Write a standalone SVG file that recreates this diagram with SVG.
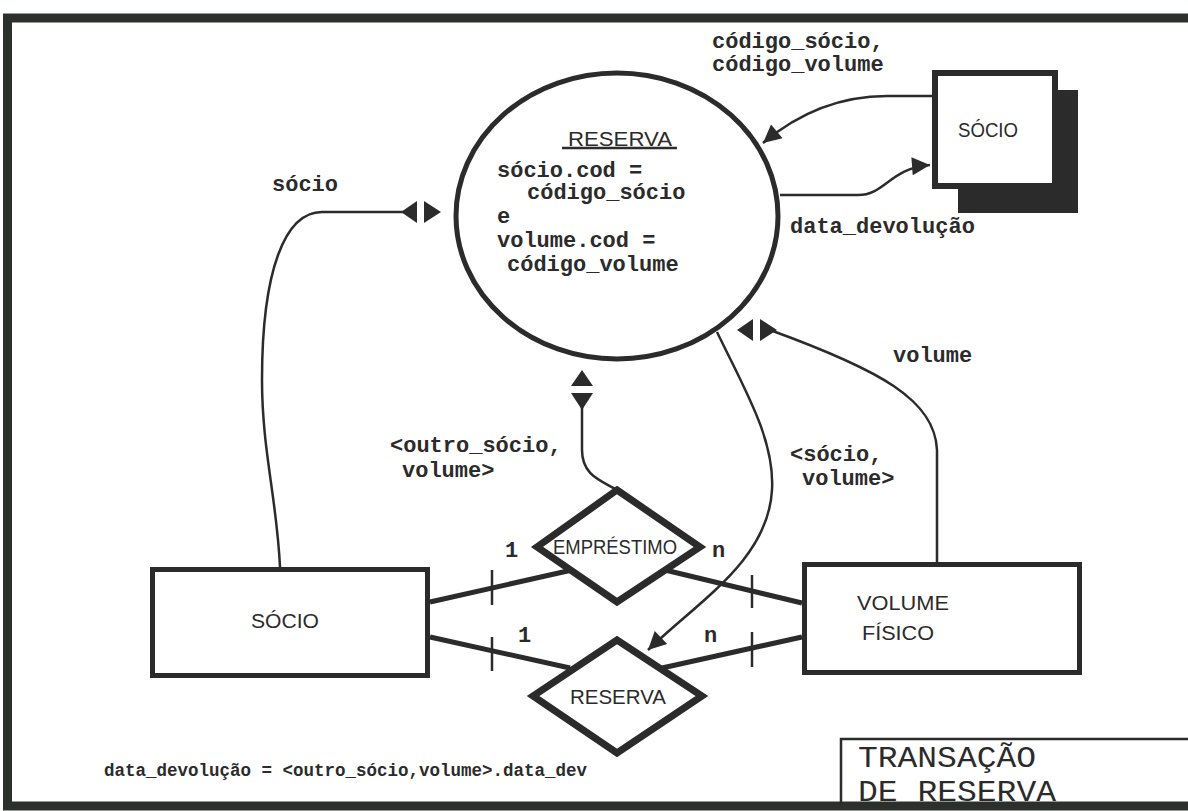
<svg xmlns="http://www.w3.org/2000/svg" width="1188" height="811" viewBox="0 0 1188 811">
<defs>
<style>
.frame{fill:none;stroke:#2c302c;stroke-width:9}
.box{fill:#fff;stroke:#2b2b2b;stroke-width:5}
.thick{fill:#fff;stroke:#2b2b2b;stroke-width:7}
.link{fill:none;stroke:#2b2b2b;stroke-width:5}
.flow{fill:none;stroke:#2b2b2b;stroke-width:2.5}
.tick{stroke:#2b2b2b;stroke-width:2.5}
.mono{font-family:"Liberation Mono","Courier New",monospace;font-weight:bold;font-size:22px;fill:#2b2b2b}
.small{font-family:"Liberation Mono","Courier New",monospace;font-weight:bold;font-size:17.5px;fill:#2b2b2b}
.title{font-family:"Liberation Mono","Courier New",monospace;font-size:30px;fill:#2b2b2b}
.sans{font-family:"Liberation Sans",Arial,sans-serif;font-size:20px;fill:#2b2b2b}
.head{fill:#2b2b2b}
</style>
<marker id="arr" viewBox="0 0 10 10" refX="10" refY="5" markerWidth="20" markerHeight="18" markerUnits="userSpaceOnUse" orient="auto">
<path d="M0,0 L10,5 L0,10 z" fill="#2b2b2b"/>
</marker>
<g id="dbl">
<polygon points="-20,0 -4,-11 -4,11" class="head"/>
<polygon points="20,0 3,-11 3,11" class="head"/>
</g>
</defs>
<rect width="1188" height="811" fill="#fff"/>
<path class="frame" d="M1188 18 L7.5 18 L7.5 806 L1188 806"/>

<g id="connectors">
<line class="link" x1="430" y1="602" x2="572" y2="570"/>
<line class="link" x1="665" y1="570" x2="802" y2="603"/>
<line class="link" x1="430" y1="637" x2="570" y2="668"/>
<line class="link" x1="802" y1="637" x2="662" y2="668"/>
<line class="tick" x1="492" y1="570" x2="492" y2="605"/>
<line class="tick" x1="752" y1="575" x2="752" y2="608"/>
<line class="tick" x1="492" y1="637" x2="492" y2="671"/>
<line class="tick" x1="752" y1="632" x2="752" y2="667"/>
<path class="flow" d="M280 567 C277 500 262 450 262 380 C262 270 285 212 322 212 L415 212"/>
<use href="#dbl" x="421" y="212"/>
<path class="flow" d="M937 563 L937 450 C935 400 880 370 770 330"/>
<use href="#dbl" x="757" y="330"/>
<path class="flow" d="M617 490 C600 480 582 475 582 450 L582 395"/>
<use href="#dbl" transform="translate(582,390) rotate(90)"/>
<path class="flow" marker-end="url(#arr)" d="M717 332 C745 390 775 440 772 490 C768 560 700 600 648 650"/>
<path class="flow" marker-end="url(#arr)" d="M932 96 L887 96 C840 96 800 112 763 143"/>
<path class="flow" marker-end="url(#arr)" d="M780 195 L858 195 C885 195 890 168 930 165"/>
</g>

<g id="process-reserva">
<ellipse cx="617" cy="216" rx="161" ry="143" fill="none" stroke="#2b2b2b" stroke-width="5"/>
<text class="sans" x="568" y="146" font-size="25" textLength="104" lengthAdjust="spacingAndGlyphs">RESERVA</text>
<line x1="562" y1="148" x2="677" y2="148" stroke="#2b2b2b" stroke-width="2.5"/>
<text class="mono" x="497" y="177">sócio.cod =</text>
<text class="mono" x="527" y="199">código_sócio</text>
<text class="mono" x="497" y="223">e</text>
<text class="mono" x="497" y="247">volume.cod =</text>
<text class="mono" x="507" y="271">código_volume</text>
</g>

<g id="store-socio">
<rect x="958" y="90" width="120" height="123" fill="#2b2b2b"/>
<rect x="935" y="73" width="120" height="113" fill="#fff" stroke="#2b2b2b" stroke-width="6"/>
<text class="sans" x="988" y="137" text-anchor="middle" font-size="22" textLength="60" lengthAdjust="spacingAndGlyphs">SÓCIO</text>
</g>

<g id="entity-socio">
<rect class="box" x="152.5" y="569.5" width="275" height="106"/>
<text class="sans" x="285" y="628" text-anchor="middle" font-size="21" textLength="68" lengthAdjust="spacingAndGlyphs">SÓCIO</text>
</g>

<g id="entity-volume">
<rect class="box" x="804.5" y="564.5" width="275" height="108"/>
<text class="sans" x="857" y="610" font-size="21" textLength="92" lengthAdjust="spacingAndGlyphs">VOLUME</text>
<text class="sans" x="862" y="640" font-size="21" textLength="72" lengthAdjust="spacingAndGlyphs">FÍSICO</text>
</g>

<g id="rel-emprestimo">
<polygon class="thick" points="617,490 700,547 617,602 537,547"/>
<text class="sans" x="615" y="554" text-anchor="middle" font-size="20" textLength="124" lengthAdjust="spacingAndGlyphs">EMPRÉSTIMO</text>
</g>

<g id="rel-reserva">
<polygon class="thick" points="617,640 702,696 617,753 533,696"/>
<text class="sans" x="618" y="704" text-anchor="middle" font-size="20" textLength="96" lengthAdjust="spacingAndGlyphs">RESERVA</text>
</g>

<g id="labels">
<text class="mono" x="712" y="48">código_sócio,</text>
<text class="mono" x="712" y="71">código_volume</text>
<text class="mono" x="790" y="233">data_devolução</text>
<text class="mono" x="272" y="191">sócio</text>
<text class="mono" x="893" y="362">volume</text>
<text class="mono" x="790" y="461" font-size="21">&lt;sócio,</text>
<text class="mono" x="802" y="485" font-size="21">volume&gt;</text>
<text class="mono" x="390" y="452">&lt;outro_sócio,</text>
<text class="mono" x="402" y="477">volume&gt;</text>
<text class="mono" x="505" y="557">1</text>
<text class="mono" x="712" y="557">n</text>
<text class="mono" x="518" y="642">1</text>
<text class="mono" x="704" y="642">n</text>
<text class="small" x="104" y="776">data_devolução = &lt;outro_sócio,volume&gt;.data_dev</text>
</g>

<g id="title">
<path d="M841 806 L841 739 L1188 739" fill="none" stroke="#2b2b2b" stroke-width="2.5"/>
<text class="title" x="858" y="767" textLength="178" lengthAdjust="spacingAndGlyphs">TRANSAÇÃO</text>
<text class="title" x="858" y="801" textLength="198" lengthAdjust="spacingAndGlyphs">DE RESERVA</text>
</g>
</svg>
